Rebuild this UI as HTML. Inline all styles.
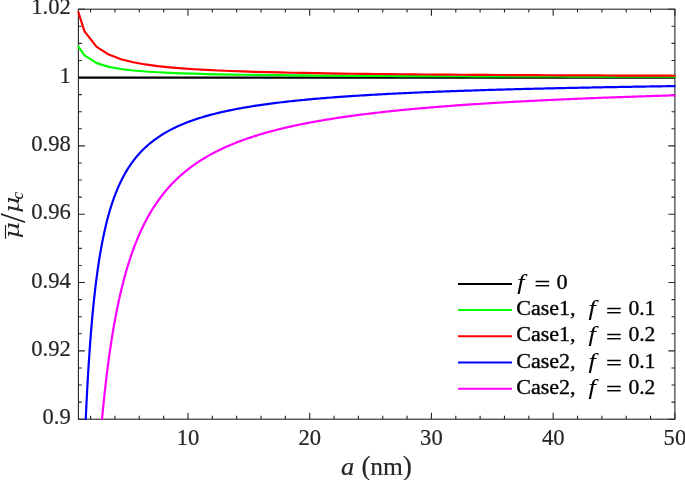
<!DOCTYPE html>
<html><head><meta charset="utf-8"><title>plot</title>
<style>
html,body{margin:0;padding:0;background:#fff;}
svg{display:block;}
text{font-family:"Liberation Serif",serif;fill:#262626;stroke:#262626;stroke-width:0.2px;}
.tk{font-size:23px;}
.lg{font-size:21.6px;fill:#000;stroke:#000;stroke-width:0.35px;}
.it{font-style:italic;}
</style></head><body>
<svg width="685" height="480" viewBox="0 0 685 480">
<rect width="685" height="480" fill="#fff"/>
<defs><clipPath id="c"><rect x="77.2" y="9.2" width="598.3" height="410.5"/></clipPath></defs>

<g stroke="#262626" stroke-width="1.1" fill="none">
<rect x="78.4" y="9.2" width="596.5" height="410.0"/>
<path d="M90.57 419.2v-3.4M90.57 9.2v3.4M114.92 419.2v-3.4M114.92 9.2v3.4M139.27 419.2v-3.4M139.27 9.2v3.4M163.61 419.2v-3.4M163.61 9.2v3.4M187.96 419.2v-6.5M187.96 9.2v6.5M212.31 419.2v-3.4M212.31 9.2v3.4M236.66 419.2v-3.4M236.66 9.2v3.4M261.00 419.2v-3.4M261.00 9.2v3.4M285.35 419.2v-3.4M285.35 9.2v3.4M309.70 419.2v-6.5M309.70 9.2v6.5M334.04 419.2v-3.4M334.04 9.2v3.4M358.39 419.2v-3.4M358.39 9.2v3.4M382.74 419.2v-3.4M382.74 9.2v3.4M407.08 419.2v-3.4M407.08 9.2v3.4M431.43 419.2v-6.5M431.43 9.2v6.5M455.78 419.2v-3.4M455.78 9.2v3.4M480.12 419.2v-3.4M480.12 9.2v3.4M504.47 419.2v-3.4M504.47 9.2v3.4M528.82 419.2v-3.4M528.82 9.2v3.4M553.17 419.2v-6.5M553.17 9.2v6.5M577.51 419.2v-3.4M577.51 9.2v3.4M601.86 419.2v-3.4M601.86 9.2v3.4M626.21 419.2v-3.4M626.21 9.2v3.4M650.55 419.2v-3.4M650.55 9.2v3.4M674.90 419.2v-6.5M674.90 9.2v6.5M78.4 419.20h6.5M674.9 419.20h-6.5M78.4 402.12h3.4M674.9 402.12h-3.4M78.4 385.03h3.4M674.9 385.03h-3.4M78.4 367.95h3.4M674.9 367.95h-3.4M78.4 350.87h6.5M674.9 350.87h-6.5M78.4 333.78h3.4M674.9 333.78h-3.4M78.4 316.70h3.4M674.9 316.70h-3.4M78.4 299.62h3.4M674.9 299.62h-3.4M78.4 282.53h6.5M674.9 282.53h-6.5M78.4 265.45h3.4M674.9 265.45h-3.4M78.4 248.37h3.4M674.9 248.37h-3.4M78.4 231.28h3.4M674.9 231.28h-3.4M78.4 214.20h6.5M674.9 214.20h-6.5M78.4 197.12h3.4M674.9 197.12h-3.4M78.4 180.03h3.4M674.9 180.03h-3.4M78.4 162.95h3.4M674.9 162.95h-3.4M78.4 145.87h6.5M674.9 145.87h-6.5M78.4 128.78h3.4M674.9 128.78h-3.4M78.4 111.70h3.4M674.9 111.70h-3.4M78.4 94.62h3.4M674.9 94.62h-3.4M78.4 77.53h6.5M674.9 77.53h-6.5M78.4 60.45h3.4M674.9 60.45h-3.4M78.4 43.37h3.4M674.9 43.37h-3.4M78.4 26.28h3.4M674.9 26.28h-3.4M78.4 9.20h6.5M674.9 9.20h-6.5"/>
</g>
<g clip-path="url(#c)" fill="none" stroke-width="2.2" stroke-linejoin="round">
<line x1="78.4" x2="674.9" y1="77.53" y2="77.53" stroke="#000"/>
<polyline points="78.40,46.63 84.49,55.44 96.66,63.12 108.83,66.84 121.01,69.03 133.18,70.48 145.35,71.50 157.53,72.27 169.70,72.86 181.87,73.33 194.05,73.72 206.22,74.04 218.39,74.31 230.57,74.54 242.74,74.75 254.92,74.92 267.09,75.08 279.26,75.21 291.44,75.34 303.61,75.45 315.78,75.55 327.96,75.64 340.13,75.72 352.30,75.80 364.48,75.87 376.65,75.93 388.82,75.99 401.00,76.05 413.17,76.10 425.34,76.15 437.52,76.19 449.69,76.23 461.86,76.27 474.04,76.31 486.21,76.34 498.38,76.38 510.56,76.41 522.73,76.44 534.91,76.47 547.08,76.49 559.25,76.52 571.43,76.54 583.60,76.57 595.77,76.59 607.95,76.61 620.12,76.63 632.29,76.65 644.47,76.67 656.64,76.68 668.81,76.70 680.99,76.72" stroke="#00ff00" stroke-linecap="square"/>
<polyline points="78.40,12.33 84.49,31.33 96.66,46.87 108.83,54.59 121.01,59.20 133.18,62.27 145.35,64.46 157.53,66.10 169.70,67.38 181.87,68.39 194.05,69.23 206.22,69.92 218.39,70.51 230.57,71.01 242.74,71.45 254.92,71.83 267.09,72.16 279.26,72.46 291.44,72.73 303.61,72.97 315.78,73.19 327.96,73.39 340.13,73.57 352.30,73.73 364.48,73.88 376.65,74.02 388.82,74.15 401.00,74.27 413.17,74.39 425.34,74.49 437.52,74.59 449.69,74.68 461.86,74.77 474.04,74.85 486.21,74.93 498.38,75.00 510.56,75.07 522.73,75.13 534.91,75.19 547.08,75.25 559.25,75.31 571.43,75.36 583.60,75.41 595.77,75.46 607.95,75.51 620.12,75.55 632.29,75.59 644.47,75.63 656.64,75.67 668.81,75.71 680.99,75.75" stroke="#ff0000" stroke-linecap="square"/>
<polyline points="78.50,716.11 78.65,704.84 78.81,693.94 78.96,683.41 79.11,673.21 79.26,663.35 79.42,653.79 79.57,644.53 79.72,635.55 79.87,626.85 80.03,618.41 80.18,610.21 80.33,602.25 80.48,594.52 80.64,587.01 80.79,579.71 80.94,572.61 81.09,565.70 81.25,558.98 81.40,552.44 81.55,546.07 81.70,539.86 81.86,533.81 82.01,527.92 82.16,522.17 82.31,516.57 82.47,511.10 82.62,505.76 82.77,500.55 82.92,495.47 83.08,490.50 83.23,485.65 83.38,480.91 83.53,476.27 83.69,471.74 83.84,467.31 83.99,462.98 84.14,458.74 84.30,454.59 84.45,450.53 84.60,446.56 84.75,442.67 84.91,438.85 85.06,435.12 85.21,431.46 85.36,427.88 85.52,424.36 85.67,420.92 85.82,417.54 85.97,414.23 86.13,410.98 86.28,407.79 86.43,404.66 86.58,401.59 86.74,398.58 86.89,395.62 87.04,392.71 87.19,389.86 87.35,387.06 87.50,384.31 87.65,381.60 87.81,378.94 87.96,376.33 88.11,373.76 88.26,371.24 88.42,368.76 88.57,366.32 88.72,363.92 88.87,361.56 89.03,359.23 89.18,356.95 89.33,354.70 89.48,352.49 89.64,350.31 89.79,348.17 89.94,346.06 90.09,343.98 90.25,341.93 90.40,339.92 90.55,337.93 90.70,335.98 90.86,334.05 91.01,332.15 91.16,330.28 91.31,328.44 91.47,326.62 91.62,324.83 91.77,323.07 91.92,321.33 92.08,319.61 92.23,317.92 92.38,316.25 92.53,314.60 92.69,312.98 92.84,311.38 92.99,309.80 93.14,308.24 93.30,306.70 93.45,305.19 93.60,303.69 93.75,302.21 93.91,300.75 94.06,299.31 94.21,297.89 94.36,296.49 94.52,295.10 94.67,293.73 94.82,292.38 94.97,291.05 95.13,289.73 95.28,288.43 95.43,287.14 95.58,285.87 95.74,284.61 95.89,283.37 96.04,282.15 96.20,280.94 96.35,279.74 96.50,278.56 96.65,277.39 96.81,276.23 96.96,275.09 97.11,273.96 97.26,272.84 97.42,271.74 97.57,270.65 97.72,269.57 97.87,268.50 98.03,267.44 98.18,266.40 98.33,265.37 98.48,264.35 98.64,263.34 98.79,262.34 98.94,261.35 99.09,260.37 99.25,259.40 99.40,258.44 99.55,257.50 99.70,256.56 99.86,255.63 100.01,254.71 100.16,253.80 100.31,252.90 100.47,252.01 100.62,251.13 100.77,250.25 100.92,249.39 101.08,248.53 101.23,247.69 101.38,246.85 101.53,246.02 101.69,245.20 101.84,244.38 101.99,243.57 102.14,242.78 102.30,241.98 102.45,241.20 102.60,240.42 102.75,239.65 102.91,238.89 103.06,238.14 103.21,237.39 103.36,236.65 103.52,235.92 103.67,235.19 103.82,234.47 103.97,233.75 104.13,233.05 104.28,232.35 104.43,231.65 104.59,230.96 104.74,230.28 104.89,229.60 105.04,228.93 105.20,228.27 105.35,227.61 105.50,226.96 105.65,226.31 105.81,225.67 105.96,225.03 106.11,224.40 106.26,223.77 106.42,223.15 106.57,222.54 106.72,221.93 106.87,221.32 107.03,220.72 107.18,220.13 107.33,219.54 107.48,218.96 107.64,218.38 107.79,217.80 107.94,217.23 108.09,216.66 108.25,216.10 108.40,215.54 108.55,214.99 108.70,214.44 108.86,213.90 109.01,213.36 109.16,212.83 109.31,212.29 109.47,211.77 109.62,211.24 109.77,210.73 109.92,210.21 110.08,209.70 110.23,209.19 110.38,208.69 110.53,208.19 110.69,207.70 110.84,207.20 110.99,206.72 111.14,206.23 111.30,205.75 111.45,205.27 111.60,204.80 111.75,204.33 111.91,203.86 112.06,203.40 112.21,202.94 112.36,202.48 112.52,202.03 112.67,201.58 112.82,201.13 112.97,200.69 113.13,200.25 113.28,199.81 113.43,199.38 113.59,198.95 113.74,198.52 113.89,198.10 114.04,197.67 114.20,197.26 114.35,196.84 114.50,196.43 114.65,196.02 114.81,195.61 114.96,195.20 115.11,194.80 115.26,194.40 115.42,194.01 115.57,193.61 115.72,193.22 115.87,192.83 116.03,192.45 116.18,192.06 116.33,191.68 116.48,191.30 116.64,190.93 116.79,190.55 116.94,190.18 117.09,189.82 117.25,189.45 117.40,189.09 117.55,188.72 117.70,188.36 117.86,188.01 118.01,187.65 118.16,187.30 118.31,186.95 118.47,186.60 118.62,186.26 118.77,185.92 118.92,185.57 119.08,185.24 119.23,184.90 119.38,184.56 119.53,184.23 119.69,183.90 119.84,183.57 119.99,183.25 120.14,182.92 120.30,182.60 120.45,182.28 120.60,181.96 120.75,181.64 120.91,181.33 121.06,181.01 121.21,180.70 121.36,180.39 121.52,180.09 121.67,179.78 121.82,179.48 121.97,179.18 122.13,178.88 122.28,178.58 122.43,178.28 122.59,177.99 122.74,177.69 122.89,177.40 123.04,177.11 123.20,176.82 123.35,176.54 123.50,176.25 123.65,175.97 123.81,175.69 123.96,175.41 124.11,175.13 124.26,174.85 124.42,174.58 124.57,174.30 124.72,174.03 124.87,173.76 125.03,173.49 125.18,173.22 125.33,172.96 125.48,172.69 125.64,172.43 125.79,172.17 125.94,171.91 126.09,171.65 126.25,171.39 126.40,171.14 126.55,170.88 126.70,170.63 126.86,170.38 127.01,170.13 127.16,169.88 127.31,169.63 127.47,169.38 127.62,169.14 127.77,168.89 127.92,168.65 128.08,168.41 128.23,168.17 128.38,167.93 128.53,167.69 128.69,167.46 128.84,167.22 128.99,166.99 129.14,166.76 129.30,166.53 129.45,166.30 129.60,166.07 129.75,165.84 129.91,165.61 130.06,165.39 130.21,165.16 130.36,164.94 130.52,164.72 130.67,164.50 130.82,164.28 130.98,164.06 131.13,163.84 131.28,163.62 131.43,163.41 131.59,163.19 131.74,162.98 131.89,162.77 132.04,162.56 132.20,162.35 132.35,162.14 132.50,161.93 132.65,161.72 132.81,161.52 132.96,161.31 133.11,161.11 133.26,160.90 133.42,160.70 133.57,160.50 133.72,160.30 133.87,160.10 134.03,159.90 134.18,159.71 134.33,159.51 134.48,159.31 134.64,159.12 134.79,158.93 134.94,158.73 135.09,158.54 135.25,158.35 135.40,158.16 135.55,157.97 135.70,157.78 135.86,157.60 136.01,157.41 136.16,157.23 136.31,157.04 136.47,156.86 136.62,156.67 136.77,156.49 136.92,156.31 137.08,156.13 137.23,155.95 137.38,155.77 137.53,155.59 137.69,155.42 137.84,155.24 137.99,155.06 138.14,154.89 138.30,154.72 138.45,154.54 138.60,154.37 138.75,154.20 138.91,154.03 139.06,153.86 139.21,153.69 139.37,153.52 141.16,151.58 142.96,149.75 144.76,148.00 146.56,146.33 148.36,144.74 150.16,143.22 151.96,141.77 153.76,140.38 155.56,139.05 157.36,137.78 159.16,136.55 160.96,135.38 162.76,134.25 164.56,133.16 166.36,132.12 168.16,131.11 169.96,130.14 171.76,129.21 173.56,128.30 175.35,127.43 177.15,126.59 178.95,125.77 180.75,124.98 182.55,124.22 184.35,123.48 186.15,122.77 187.95,122.07 189.75,121.40 191.55,120.75 193.35,120.11 195.15,119.50 196.95,118.90 198.75,118.32 200.55,117.75 202.35,117.20 204.15,116.67 205.95,116.15 207.75,115.64 209.54,115.14 211.34,114.66 213.14,114.19 214.94,113.74 216.74,113.29 218.54,112.85 220.34,112.43 222.14,112.01 223.94,111.61 225.74,111.21 227.54,110.82 229.34,110.45 231.14,110.08 232.94,109.72 234.74,109.36 236.54,109.02 238.34,108.68 240.14,108.35 241.94,108.02 243.74,107.70 245.53,107.39 247.33,107.09 249.13,106.79 250.93,106.50 252.73,106.21 254.53,105.93 256.33,105.65 258.13,105.38 259.93,105.12 261.73,104.86 263.53,104.60 265.33,104.35 267.13,104.10 268.93,103.86 270.73,103.62 272.53,103.39 274.33,103.16 276.13,102.94 277.93,102.71 279.72,102.50 281.52,102.28 283.32,102.07 285.12,101.87 286.92,101.66 288.72,101.46 290.52,101.27 292.32,101.07 294.12,100.88 295.92,100.70 297.72,100.51 299.52,100.33 301.32,100.15 303.12,99.98 304.92,99.80 306.72,99.63 308.52,99.46 310.32,99.30 312.12,99.14 313.92,98.97 315.71,98.82 317.51,98.66 319.31,98.51 321.11,98.36 322.91,98.21 324.71,98.06 326.51,97.91 328.31,97.77 330.11,97.63 331.91,97.49 333.71,97.35 335.51,97.22 337.31,97.09 339.11,96.95 340.91,96.82 342.71,96.69 344.51,96.57 346.31,96.44 348.11,96.32 349.90,96.20 351.70,96.08 353.50,95.96 355.30,95.84 357.10,95.73 358.90,95.61 360.70,95.50 362.50,95.39 364.30,95.28 366.10,95.17 367.90,95.06 369.70,94.96 371.50,94.85 373.30,94.75 375.10,94.64 376.90,94.54 378.70,94.44 380.50,94.34 382.30,94.25 384.10,94.15 385.89,94.05 387.69,93.96 389.49,93.87 391.29,93.77 393.09,93.68 394.89,93.59 396.69,93.50 398.49,93.42 400.29,93.33 402.09,93.24 403.89,93.16 405.69,93.07 407.49,92.99 409.29,92.91 411.09,92.82 412.89,92.74 414.69,92.66 416.49,92.58 418.29,92.50 420.08,92.43 421.88,92.35 423.68,92.27 425.48,92.20 427.28,92.12 429.08,92.05 430.88,91.98 432.68,91.90 434.48,91.83 436.28,91.76 438.08,91.69 439.88,91.62 441.68,91.55 443.48,91.49 445.28,91.42 447.08,91.35 448.88,91.28 450.68,91.22 452.48,91.15 454.28,91.09 456.07,91.03 457.87,90.96 459.67,90.90 461.47,90.84 463.27,90.78 465.07,90.72 466.87,90.65 468.67,90.59 470.47,90.54 472.27,90.48 474.07,90.42 475.87,90.36 477.67,90.30 479.47,90.25 481.27,90.19 483.07,90.13 484.87,90.08 486.67,90.02 488.47,89.97 490.26,89.92 492.06,89.86 493.86,89.81 495.66,89.76 497.46,89.71 499.26,89.65 501.06,89.60 502.86,89.55 504.66,89.50 506.46,89.45 508.26,89.40 510.06,89.35 511.86,89.30 513.66,89.26 515.46,89.21 517.26,89.16 519.06,89.11 520.86,89.07 522.66,89.02 524.46,88.97 526.25,88.93 528.05,88.88 529.85,88.84 531.65,88.79 533.45,88.75 535.25,88.71 537.05,88.66 538.85,88.62 540.65,88.58 542.45,88.53 544.25,88.49 546.05,88.45 547.85,88.41 549.65,88.37 551.45,88.33 553.25,88.28 555.05,88.24 556.85,88.20 558.65,88.16 560.44,88.12 562.24,88.09 564.04,88.05 565.84,88.01 567.64,87.97 569.44,87.93 571.24,87.89 573.04,87.86 574.84,87.82 576.64,87.78 578.44,87.74 580.24,87.71 582.04,87.67 583.84,87.64 585.64,87.60 587.44,87.56 589.24,87.53 591.04,87.49 592.84,87.46 594.64,87.43 596.43,87.39 598.23,87.36 600.03,87.32 601.83,87.29 603.63,87.26 605.43,87.22 607.23,87.19 609.03,87.16 610.83,87.12 612.63,87.09 614.43,87.06 616.23,87.03 618.03,87.00 619.83,86.97 621.63,86.93 623.43,86.90 625.23,86.87 627.03,86.84 628.83,86.81 630.62,86.78 632.42,86.75 634.22,86.72 636.02,86.69 637.82,86.66 639.62,86.63 641.42,86.60 643.22,86.58 645.02,86.55 646.82,86.52 648.62,86.49 650.42,86.46 652.22,86.43 654.02,86.41 655.82,86.38 657.62,86.35 659.42,86.32 661.22,86.30 663.02,86.27 664.82,86.24 666.61,86.22 668.41,86.19 670.21,86.16 672.01,86.14 673.81,86.11 675.61,86.08 677.41,86.06" stroke="#0000ff"/>
<polyline points="78.50,1393.14 78.65,1369.92 78.81,1347.48 78.96,1325.77 79.11,1304.78 79.26,1284.45 79.42,1264.76 79.57,1245.69 79.72,1227.20 79.87,1209.27 80.03,1191.87 80.18,1174.99 80.33,1158.60 80.48,1142.67 80.64,1127.20 80.79,1112.16 80.94,1097.53 81.09,1083.30 81.25,1069.46 81.40,1055.98 81.55,1042.85 81.70,1030.07 81.86,1017.61 82.01,1005.47 82.16,993.63 82.31,982.08 82.47,970.82 82.62,959.83 82.77,949.10 82.92,938.62 83.08,928.39 83.23,918.39 83.38,908.63 83.53,899.08 83.69,889.75 83.84,880.62 83.99,871.70 84.14,862.96 84.30,854.42 84.45,846.05 84.60,837.87 84.75,829.85 84.91,822.00 85.06,814.30 85.21,806.77 85.36,799.38 85.52,792.14 85.67,785.05 85.82,778.09 85.97,771.26 86.13,764.57 86.28,758.00 86.43,751.56 86.58,745.23 86.74,739.02 86.89,732.93 87.04,726.95 87.19,721.07 87.35,715.30 87.50,709.63 87.65,704.05 87.81,698.58 87.96,693.20 88.11,687.91 88.26,682.71 88.42,677.60 88.57,672.57 88.72,667.63 88.87,662.76 89.03,657.98 89.18,653.27 89.33,648.64 89.48,644.08 89.64,639.60 89.79,635.18 89.94,630.83 90.09,626.55 90.25,622.34 90.40,618.18 90.55,614.09 90.70,610.07 90.86,606.10 91.01,602.19 91.16,598.34 91.31,594.54 91.47,590.80 91.62,587.11 91.77,583.47 91.92,579.89 92.08,576.35 92.23,572.87 92.38,569.43 92.53,566.04 92.69,562.70 92.84,559.40 92.99,556.15 93.14,552.94 93.30,549.77 93.45,546.64 93.60,543.56 93.75,540.51 93.91,537.51 94.06,534.54 94.21,531.61 94.36,528.72 94.52,525.87 94.67,523.05 94.82,520.26 94.97,517.51 95.13,514.80 95.28,512.11 95.43,509.47 95.58,506.85 95.74,504.26 95.89,501.71 96.04,499.18 96.20,496.69 96.35,494.22 96.50,491.78 96.65,489.37 96.81,486.99 96.96,484.64 97.11,482.31 97.26,480.01 97.42,477.74 97.57,475.49 97.72,473.27 97.87,471.07 98.03,468.89 98.18,466.74 98.33,464.61 98.48,462.51 98.64,460.43 98.79,458.37 98.94,456.33 99.09,454.32 99.25,452.32 99.40,450.35 99.55,448.40 99.70,446.46 99.86,444.55 100.01,442.66 100.16,440.79 100.31,438.93 100.47,437.10 100.62,435.28 100.77,433.48 100.92,431.70 101.08,429.94 101.23,428.19 101.38,426.46 101.53,424.75 101.69,423.06 101.84,421.38 101.99,419.72 102.14,418.07 102.30,416.44 102.45,414.83 102.60,413.23 102.75,411.65 102.91,410.08 103.06,408.52 103.21,406.98 103.36,405.46 103.52,403.94 103.67,402.45 103.82,400.96 103.97,399.49 104.13,398.03 104.28,396.59 104.43,395.16 104.59,393.74 104.74,392.33 104.89,390.94 105.04,389.56 105.20,388.19 105.35,386.83 105.50,385.49 105.65,384.15 105.81,382.83 105.96,381.52 106.11,380.22 106.26,378.93 106.42,377.65 106.57,376.39 106.72,375.13 106.87,373.88 107.03,372.65 107.18,371.42 107.33,370.21 107.48,369.00 107.64,367.81 107.79,366.62 107.94,365.45 108.09,364.28 108.25,363.12 108.40,361.98 108.55,360.84 108.70,359.71 108.86,358.59 109.01,357.48 109.16,356.38 109.31,355.28 109.47,354.20 109.62,353.12 109.77,352.05 109.92,350.99 110.08,349.94 110.23,348.89 110.38,347.86 110.53,346.83 110.69,345.81 110.84,344.80 110.99,343.79 111.14,342.79 111.30,341.80 111.45,340.82 111.60,339.85 111.75,338.88 111.91,337.92 112.06,336.96 112.21,336.01 112.36,335.07 112.52,334.14 112.67,333.21 112.82,332.29 112.97,331.38 113.13,330.47 113.28,329.57 113.43,328.68 113.59,327.79 113.74,326.91 113.89,326.03 114.04,325.17 114.20,324.30 114.35,323.44 114.50,322.59 114.65,321.75 114.81,320.91 114.96,320.08 115.11,319.25 115.26,318.42 115.42,317.61 115.57,316.80 115.72,315.99 115.87,315.19 116.03,314.40 116.18,313.61 116.33,312.82 116.48,312.04 116.64,311.27 116.79,310.50 116.94,309.73 117.09,308.98 117.25,308.22 117.40,307.47 117.55,306.73 117.70,305.99 117.86,305.25 118.01,304.52 118.16,303.80 118.31,303.08 118.47,302.36 118.62,301.65 118.77,300.94 118.92,300.24 119.08,299.54 119.23,298.85 119.38,298.16 119.53,297.47 119.69,296.79 119.84,296.11 119.99,295.44 120.14,294.77 120.30,294.11 120.45,293.45 120.60,292.79 120.75,292.14 120.91,291.49 121.06,290.85 121.21,290.20 121.36,289.57 121.52,288.93 121.67,288.31 121.82,287.68 121.97,287.06 122.13,286.44 122.28,285.83 122.43,285.21 122.59,284.61 122.74,284.00 122.89,283.40 123.04,282.81 123.20,282.21 123.35,281.62 123.50,281.04 123.65,280.45 123.81,279.87 123.96,279.30 124.11,278.72 124.26,278.15 124.42,277.59 124.57,277.02 124.72,276.46 124.87,275.90 125.03,275.35 125.18,274.80 125.33,274.25 125.48,273.71 125.64,273.16 125.79,272.62 125.94,272.09 126.09,271.56 126.25,271.03 126.40,270.50 126.55,269.97 126.70,269.45 126.86,268.93 127.01,268.42 127.16,267.90 127.31,267.39 127.47,266.89 127.62,266.38 127.77,265.88 127.92,265.38 128.08,264.88 128.23,264.39 128.38,263.90 128.53,263.41 128.69,262.92 128.84,262.44 128.99,261.95 129.14,261.47 129.30,261.00 129.45,260.52 129.60,260.05 129.75,259.58 129.91,259.12 130.06,258.65 130.21,258.19 130.36,257.73 130.52,257.27 130.67,256.82 130.82,256.36 130.98,255.91 131.13,255.47 131.28,255.02 131.43,254.58 131.59,254.13 131.74,253.69 131.89,253.26 132.04,252.82 132.20,252.39 132.35,251.96 132.50,251.53 132.65,251.10 132.81,250.68 132.96,250.26 133.11,249.84 133.26,249.42 133.42,249.00 133.57,248.59 133.72,248.18 133.87,247.77 134.03,247.36 134.18,246.95 134.33,246.55 134.48,246.14 134.64,245.74 134.79,245.34 134.94,244.95 135.09,244.55 135.25,244.16 135.40,243.77 135.55,243.38 135.70,242.99 135.86,242.61 136.01,242.22 136.16,241.84 136.31,241.46 136.47,241.08 136.62,240.70 136.77,240.33 136.92,239.96 137.08,239.58 137.23,239.21 137.38,238.85 137.53,238.48 137.69,238.11 137.84,237.75 137.99,237.39 138.14,237.03 138.30,236.67 138.45,236.31 138.60,235.96 138.75,235.60 138.91,235.25 139.06,234.90 139.21,234.55 139.37,234.20 141.16,230.22 142.96,226.43 144.76,222.83 146.56,219.39 148.36,216.12 150.16,212.99 151.96,210.00 153.76,207.14 155.56,204.40 157.36,201.77 159.16,199.25 160.96,196.83 162.76,194.51 164.56,192.27 166.36,190.12 168.16,188.04 169.96,186.05 171.76,184.12 173.56,182.26 175.35,180.46 177.15,178.73 178.95,177.05 180.75,175.42 182.55,173.85 184.35,172.33 186.15,170.85 187.95,169.43 189.75,168.04 191.55,166.69 193.35,165.39 195.15,164.12 196.95,162.89 198.75,161.69 200.55,160.52 202.35,159.39 204.15,158.29 205.95,157.22 207.75,156.17 209.54,155.15 211.34,154.16 213.14,153.19 214.94,152.25 216.74,151.33 218.54,150.43 220.34,149.56 222.14,148.70 223.94,147.87 225.74,147.05 227.54,146.26 229.34,145.48 231.14,144.71 232.94,143.97 234.74,143.24 236.54,142.53 238.34,141.83 240.14,141.15 241.94,140.48 243.74,139.83 245.53,139.18 247.33,138.56 249.13,137.94 250.93,137.34 252.73,136.75 254.53,136.17 256.33,135.60 258.13,135.04 259.93,134.49 261.73,133.96 263.53,133.43 265.33,132.91 267.13,132.41 268.93,131.91 270.73,131.42 272.53,130.94 274.33,130.47 276.13,130.00 277.93,129.55 279.72,129.10 281.52,128.66 283.32,128.23 285.12,127.80 286.92,127.38 288.72,126.97 290.52,126.56 292.32,126.17 294.12,125.77 295.92,125.39 297.72,125.01 299.52,124.64 301.32,124.27 303.12,123.91 304.92,123.55 306.72,123.20 308.52,122.85 310.32,122.51 312.12,122.18 313.92,121.84 315.71,121.52 317.51,121.20 319.31,120.88 321.11,120.57 322.91,120.26 324.71,119.96 326.51,119.66 328.31,119.36 330.11,119.07 331.91,118.79 333.71,118.51 335.51,118.23 337.31,117.95 339.11,117.68 340.91,117.41 342.71,117.15 344.51,116.89 346.31,116.63 348.11,116.38 349.90,116.12 351.70,115.88 353.50,115.63 355.30,115.39 357.10,115.15 358.90,114.92 360.70,114.69 362.50,114.46 364.30,114.23 366.10,114.00 367.90,113.78 369.70,113.56 371.50,113.35 373.30,113.14 375.10,112.92 376.90,112.72 378.70,112.51 380.50,112.31 382.30,112.10 384.10,111.91 385.89,111.71 387.69,111.51 389.49,111.32 391.29,111.13 393.09,110.94 394.89,110.76 396.69,110.57 398.49,110.39 400.29,110.21 402.09,110.03 403.89,109.86 405.69,109.68 407.49,109.51 409.29,109.34 411.09,109.17 412.89,109.01 414.69,108.84 416.49,108.68 418.29,108.52 420.08,108.36 421.88,108.20 423.68,108.04 425.48,107.89 427.28,107.73 429.08,107.58 430.88,107.43 432.68,107.28 434.48,107.13 436.28,106.99 438.08,106.84 439.88,106.70 441.68,106.56 443.48,106.42 445.28,106.28 447.08,106.14 448.88,106.00 450.68,105.87 452.48,105.73 454.28,105.60 456.07,105.47 457.87,105.34 459.67,105.21 461.47,105.08 463.27,104.95 465.07,104.83 466.87,104.70 468.67,104.58 470.47,104.46 472.27,104.34 474.07,104.22 475.87,104.10 477.67,103.98 479.47,103.86 481.27,103.75 483.07,103.63 484.87,103.52 486.67,103.41 488.47,103.29 490.26,103.18 492.06,103.07 493.86,102.96 495.66,102.86 497.46,102.75 499.26,102.64 501.06,102.54 502.86,102.43 504.66,102.33 506.46,102.23 508.26,102.12 510.06,102.02 511.86,101.92 513.66,101.82 515.46,101.72 517.26,101.63 519.06,101.53 520.86,101.43 522.66,101.34 524.46,101.24 526.25,101.15 528.05,101.06 529.85,100.96 531.65,100.87 533.45,100.78 535.25,100.69 537.05,100.60 538.85,100.51 540.65,100.42 542.45,100.33 544.25,100.25 546.05,100.16 547.85,100.08 549.65,99.99 551.45,99.91 553.25,99.82 555.05,99.74 556.85,99.66 558.65,99.57 560.44,99.49 562.24,99.41 564.04,99.33 565.84,99.25 567.64,99.17 569.44,99.09 571.24,99.02 573.04,98.94 574.84,98.86 576.64,98.79 578.44,98.71 580.24,98.64 582.04,98.56 583.84,98.49 585.64,98.41 587.44,98.34 589.24,98.27 591.04,98.19 592.84,98.12 594.64,98.05 596.43,97.98 598.23,97.91 600.03,97.84 601.83,97.77 603.63,97.70 605.43,97.64 607.23,97.57 609.03,97.50 610.83,97.43 612.63,97.37 614.43,97.30 616.23,97.24 618.03,97.17 619.83,97.11 621.63,97.04 623.43,96.98 625.23,96.91 627.03,96.85 628.83,96.79 630.62,96.73 632.42,96.66 634.22,96.60 636.02,96.54 637.82,96.48 639.62,96.42 641.42,96.36 643.22,96.30 645.02,96.24 646.82,96.18 648.62,96.12 650.42,96.07 652.22,96.01 654.02,95.95 655.82,95.89 657.62,95.84 659.42,95.78 661.22,95.73 663.02,95.67 664.82,95.61 666.61,95.56 668.41,95.50 670.21,95.45 672.01,95.40 673.81,95.34 675.61,95.29 677.41,95.24" stroke="#ff00ff"/>
</g>
<text class="tk" transform="translate(188.0,445.2) scale(0.985,1)" text-anchor="middle">10</text>
<text class="tk" transform="translate(309.7,445.2) scale(0.985,1)" text-anchor="middle">20</text>
<text class="tk" transform="translate(431.4,445.2) scale(0.985,1)" text-anchor="middle">30</text>
<text class="tk" transform="translate(553.2,445.2) scale(0.985,1)" text-anchor="middle">40</text>
<text class="tk" transform="translate(674.9,445.2) scale(0.985,1)" text-anchor="middle">50</text>
<text class="tk" transform="translate(70.8,14.4) scale(0.985,1)" text-anchor="end">1.02</text>
<text class="tk" transform="translate(70.8,82.7) scale(0.985,1)" text-anchor="end">1</text>
<text class="tk" transform="translate(70.8,151.1) scale(0.985,1)" text-anchor="end">0.98</text>
<text class="tk" transform="translate(70.8,219.4) scale(0.985,1)" text-anchor="end">0.96</text>
<text class="tk" transform="translate(70.8,287.7) scale(0.985,1)" text-anchor="end">0.94</text>
<text class="tk" transform="translate(70.8,356.1) scale(0.985,1)" text-anchor="end">0.92</text>
<text class="tk" transform="translate(70.8,424.4) scale(0.985,1)" text-anchor="end">0.9</text>
<text font-size="25.5" y="474.5"><tspan class="it" x="341" textLength="13.2" lengthAdjust="spacingAndGlyphs">a</tspan><tspan x="361.6" font-size="27.5" dy="0.6">(</tspan><tspan x="370.2" dy="-0.6">nm</tspan><tspan x="402.7" font-size="27.5" dy="0.6">)</tspan></text>
<g transform="translate(18.6,0) rotate(-90)"><text class="it" style="font-family:&quot;DejaVu Serif&quot;,serif;stroke-width:0" font-size="21" transform="translate(-238.4,0) skewX(0) scale(1.22,1)">μ</text><text style="stroke-width:0.1px" font-size="34.8" transform="translate(-222.9,6.1) skewX(0) scale(1.0,1)">/</text><text class="it" style="font-family:&quot;DejaVu Serif&quot;,serif;stroke-width:0" font-size="21" transform="translate(-213.0,0) skewX(0) scale(1.22,1)">μ</text><text class="it" style="stroke-width:0.1px" font-size="17" transform="translate(-199.6,4.6) skewX(0) scale(1.0,1)">c</text><line x1="-238.8" x2="-225" y1="-13.1" y2="-13.1" stroke="#262626" stroke-width="1.2"/></g>
<line x1="458" x2="512" y1="283.90" y2="283.90" stroke="#000" stroke-width="2"/>
<text class="lg it" style="stroke-width:0.05px" transform="translate(517.20,289.00) scale(1.2,1)">f</text><text class="lg" transform="translate(534.40,291.40) scale(1.3,1)">=</text><text class="lg" transform="translate(556.60,289.00) scale(1.03,1)">0</text>
<line x1="458" x2="512" y1="310.10" y2="310.10" stroke="#00ff00" stroke-width="2"/>
<text class="lg" transform="translate(516.20,315.20) scale(1.02,1)">Case1,</text><text class="lg it" style="stroke-width:0.05px" transform="translate(588.60,315.20) scale(1.2,1)">f</text><text class="lg" transform="translate(605.90,317.60) scale(1.3,1)">=</text><text class="lg" transform="translate(628.40,315.20) scale(1.0,1)">0.1</text>
<line x1="458" x2="512" y1="336.30" y2="336.30" stroke="#ff0000" stroke-width="2"/>
<text class="lg" transform="translate(516.20,341.40) scale(1.02,1)">Case1,</text><text class="lg it" style="stroke-width:0.05px" transform="translate(588.60,341.40) scale(1.2,1)">f</text><text class="lg" transform="translate(605.90,343.80) scale(1.3,1)">=</text><text class="lg" transform="translate(628.40,341.40) scale(1.0,1)">0.2</text>
<line x1="458" x2="512" y1="362.50" y2="362.50" stroke="#0000ff" stroke-width="2"/>
<text class="lg" transform="translate(516.20,367.60) scale(1.02,1)">Case2,</text><text class="lg it" style="stroke-width:0.05px" transform="translate(588.60,367.60) scale(1.2,1)">f</text><text class="lg" transform="translate(605.90,370.00) scale(1.3,1)">=</text><text class="lg" transform="translate(628.40,367.60) scale(1.0,1)">0.1</text>
<line x1="458" x2="512" y1="388.70" y2="388.70" stroke="#ff00ff" stroke-width="2"/>
<text class="lg" transform="translate(516.20,393.80) scale(1.02,1)">Case2,</text><text class="lg it" style="stroke-width:0.05px" transform="translate(588.60,393.80) scale(1.2,1)">f</text><text class="lg" transform="translate(605.90,396.20) scale(1.3,1)">=</text><text class="lg" transform="translate(628.40,393.80) scale(1.0,1)">0.2</text>
</svg></body></html>
